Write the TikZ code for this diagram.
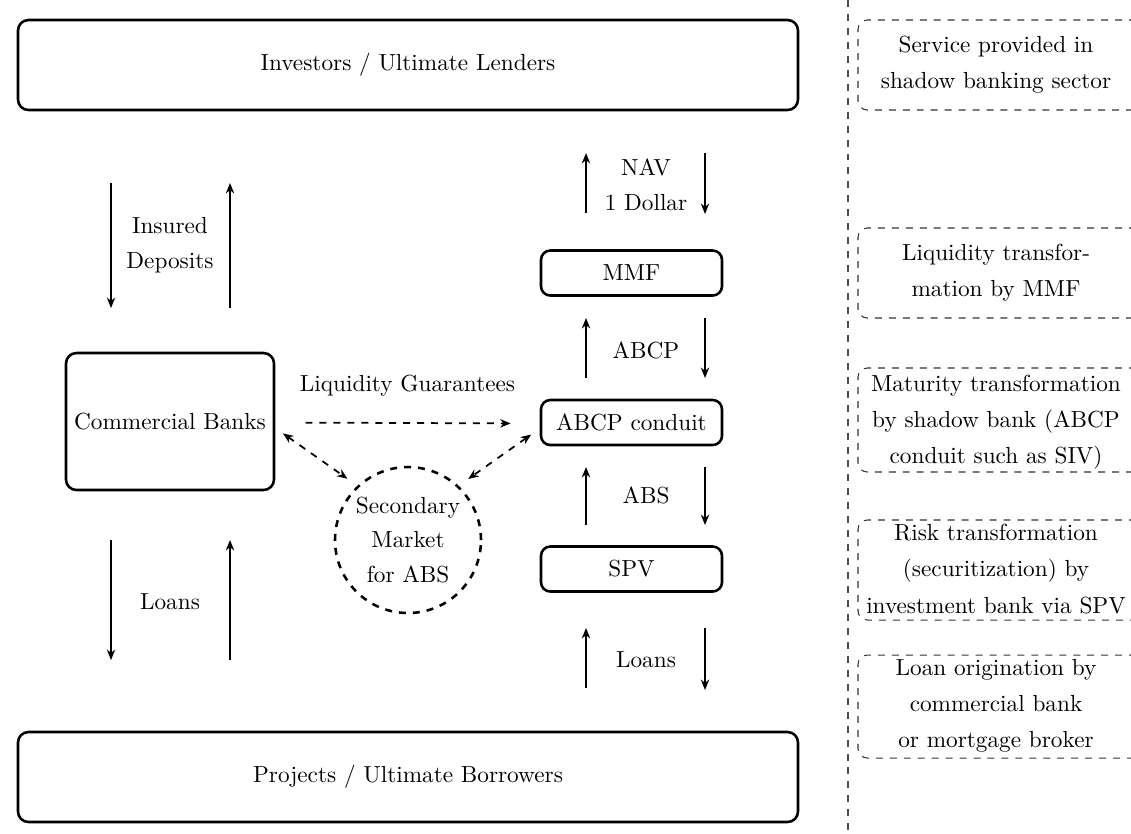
\documentclass[tikz,border=0pt]{standalone}
\usetikzlibrary{arrows.meta,calc}
\tikzset{
  bigbox/.style={draw,line width=1.1pt,rounded corners=4.5pt,minimum width=780*0.43pt,minimum height=90*0.43pt,inner sep=0pt},
  midbox/.style={draw,line width=1.1pt,rounded corners=4.5pt,minimum width=208*0.43pt,minimum height=137*0.43pt,inner sep=0pt},
  smallbox/.style={draw,line width=1.1pt,rounded corners=4pt,minimum width=181*0.43pt,minimum height=45*0.43pt,inner sep=0pt},
  flow/.style={line width=0.6pt,-{Stealth[length=4.5pt,width=3.6pt]}},
  dflow/.style={line width=0.75pt,dashed,-{Stealth[length=4.5pt,width=3.6pt]}},
  ddflow/.style={line width=0.75pt,dashed,{Stealth[length=4.5pt,width=3.6pt]}-{Stealth[length=4.5pt,width=3.6pt]}},
  svcbox/.style={draw,black!80,dashed,line width=0.45pt,rounded corners=4pt},
  lbl/.style={align=center,inner sep=0pt},
}
\begin{document}
\begin{tikzpicture}[x=0.43pt,y=-0.43pt]
\clip (0,0) rectangle (1131,833);
\fill[white] (0,0) rectangle (1131,833);

% main boxes
\node[bigbox] (inv) at (408,65) {Investors / Ultimate Lenders};
\node[bigbox] (bor) at (408,777) {Projects / Ultimate Borrowers};
\node[midbox] (cb) at (170,421.5) {Commercial Banks};
\node[smallbox] (mmf) at (631.5,273) {MMF};
\node[smallbox] (abcp) at (631.5,422.5) {ABCP conduit};
\node[smallbox] (spv) at (631.5,569) {SPV};
\node[draw,circle,line width=1.1pt,dashed,minimum size=146*0.43pt,inner sep=0pt,align=center] (mk) at (408,540) {Secondary\\[3pt]Market\\[3pt]for ABS};

% left flows
\coordinate (a1s) at (111,183); \coordinate (a1e) at (111,308);
\draw[flow] (a1s) -- (a1e);
\coordinate (a2s) at (230,308); \coordinate (a2e) at (230,183);
\draw[flow] (a2s) -- (a2e);
\node[lbl] (l1) at (170,245) {Insured\\[3pt]Deposits};

\coordinate (a3s) at (111,540); \coordinate (a3e) at (111,660);
\draw[flow] (a3s) -- (a3e);
\coordinate (a4s) at (230,660); \coordinate (a4e) at (230,540);
\draw[flow] (a4s) -- (a4e);
\node[lbl] (l2) at (170,602) {Loans};

% right flows
\coordinate (b1s) at (586,213); \coordinate (b1e) at (586,153);
\draw[flow] (b1s) -- (b1e);
\coordinate (b2s) at (705,153); \coordinate (b2e) at (705,214);
\draw[flow] (b2s) -- (b2e);
\node[lbl] (l3) at (646,185) {NAV\\[3pt]1 Dollar};

\coordinate (b3s) at (586,378); \coordinate (b3e) at (586,318);
\draw[flow] (b3s) -- (b3e);
\coordinate (b4s) at (705,318); \coordinate (b4e) at (705,378);
\draw[flow] (b4s) -- (b4e);
\node[lbl] (l4) at (646,350) {ABCP};

\coordinate (b5s) at (586,525); \coordinate (b5e) at (586,467);
\draw[flow] (b5s) -- (b5e);
\coordinate (b6s) at (705,467); \coordinate (b6e) at (705,525);
\draw[flow] (b6s) -- (b6e);
\node[lbl] (l5) at (646,495) {ABS};

\coordinate (b7s) at (586,688); \coordinate (b7e) at (586,628);
\draw[flow] (b7s) -- (b7e);
\coordinate (b8s) at (705,628); \coordinate (b8e) at (705,690);
\draw[flow] (b8s) -- (b8e);
\node[lbl] (l6) at (646,660) {Loans};

% liquidity guarantees
\draw[dflow,shorten <=13pt,shorten >=12.5pt] ([yshift=-1*0.43pt]cb.east) -- ([yshift=-1*0.43pt]abcp.west)
  node[midway,above=11pt,inner sep=0pt] (lg) {Liquidity Guarantees};
\draw[ddflow,shorten <=4pt,shorten >=5.2pt] ([yshift=-6.5*0.43pt]cb.east) -- (mk.133);
\draw[ddflow,shorten <=4.5pt,shorten >=5pt] ([yshift=-6*0.43pt]abcp.west) -- (mk.47);

% separator
\coordinate (sepT) at (848,0); \coordinate (sepB) at (848,833);
\draw[black!70,dashed,line width=0.45pt] (sepT) -- (sepB);

% service boxes
\draw[svcbox] (1150,20) -- (858,20) -- (858,110) -- (1150,110);
\node[lbl] (s1) at (996,65) {Service provided in\\[3.5pt]shadow banking sector};
\draw[svcbox] (1150,228) -- (858,228) -- (858,318) -- (1150,318);
\node[lbl] (s2) at (996,273) {Liquidity transfor-\\[3.5pt]mation by MMF};
\draw[svcbox] (1150,368) -- (858,368) -- (858,472) -- (1150,472);
\node[lbl] (s3) at (996,422) {Maturity transformation\\[3.5pt]by shadow bank (ABCP\\[3.5pt]conduit such as SIV)};
\draw[svcbox] (1150,520) -- (858,520) -- (858,620) -- (1150,620);
\node[lbl] (s4) at (996,569) {Risk transformation\\[3.5pt](securitization) by\\[3.5pt]investment bank via SPV};
\draw[svcbox] (1150,655) -- (858,655) -- (858,758) -- (1150,758);
\node[lbl] (s5) at (996,706) {Loan origination by\\[3.5pt]commercial bank\\[3.5pt]or mortgage broker};
\end{tikzpicture}
\end{document}
